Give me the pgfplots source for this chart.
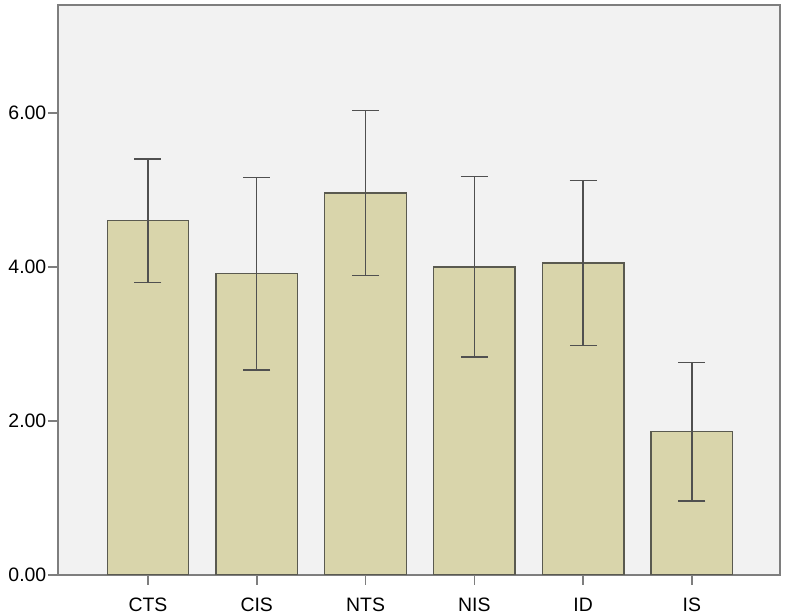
\documentclass[border=0pt]{standalone}
\usepackage{pgfplots}
\pgfplotsset{compat=1.18}
\usepackage{fontspec}
\setmainfont{Liberation Sans}
\definecolor{barfill}{HTML}{D9D5AB}
\definecolor{bardraw}{HTML}{5A5A50}
\definecolor{bgc}{HTML}{F2F2F2}
\definecolor{framec}{HTML}{7E7E7E}
\definecolor{errc}{HTML}{505050}
\begin{document}
\begin{tikzpicture}
\begin{axis}[
  scale only axis, width=722bp, height=570bp,
  xmin=-0.827, xmax=5.81, ymin=0, ymax=7.4,
  axis background/.style={fill=bgc},
  axis line style={draw=framec, line width=1.8bp},
  xtick={0,...,5}, xticklabels={CTS,CIS,NTS,NIS,ID,IS},
  ytick={0,2,4,6},
  /pgf/number format/assume math mode=true,
  tick align=outside, major tick length=10bp,
  tick style={draw=framec, line width=1.6bp},
  xtick pos=left, ytick pos=left,
  ticklabel style={font=\fontsize{19.5}{19.5}\selectfont},
  yticklabel style={inner sep=1.5bp, /pgf/number format/.cd, fixed, fixed zerofill, precision=2},
  xticklabel style={inner sep=1.5bp, yshift=-11bp},
]
\addplot[ybar, bar width=0.75, fill=barfill, draw=bardraw, line width=1.3bp,
  error bars/.cd, y dir=both, y explicit,
  error bar style={line width=1.4bp, draw=errc},
  error mark options={rotate=90, line width=1.4bp, draw=errc, mark size=13.5bp}]
  coordinates {
  (0,4.60) +- (0,0.80)
  (1,3.91) +- (0,1.25)
  (2,4.96) +- (0,1.07)
  (3,4.00) +- (0,1.17)
  (4,4.05) +- (0,1.07)
  (5,1.86) +- (0,0.90)
  };
\end{axis}
\path (current axis.south west) ++(-58bp,-39bp);
\path (current axis.north east) ++(7bp,5bp);
\end{tikzpicture}
\end{document}
